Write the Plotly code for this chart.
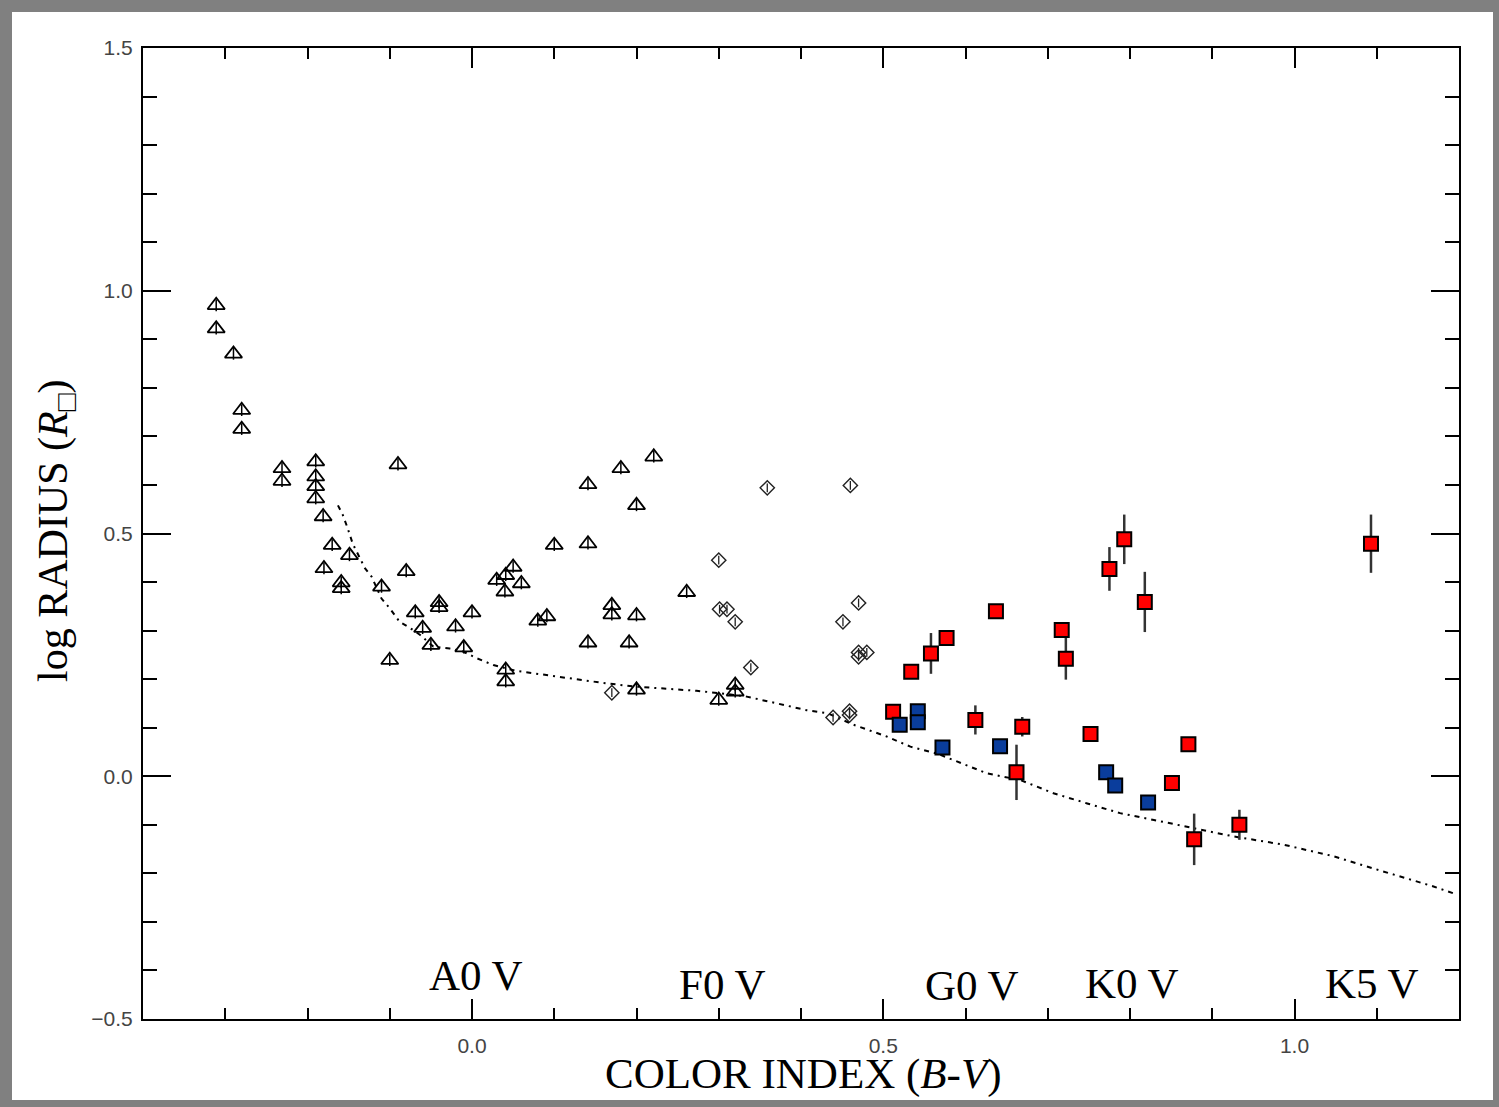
import plotly.graph_objects as go

# ---------------- data ----------------
# Open triangles
tri_x = [-0.311, -0.311, -0.290, -0.280, -0.280, -0.231, -0.231, -0.190, -0.190, -0.190,
         -0.190, -0.181, -0.170, -0.149, -0.180, -0.159, -0.159, -0.090, -0.110, -0.080,
         -0.100, -0.069, -0.060, -0.050, -0.040, -0.040, -0.020, 0.000, -0.010, 0.050,
         0.041, 0.030, 0.060, 0.040, 0.041, 0.041, 0.080, 0.091, 0.100, 0.141,
         0.141, 0.141, 0.181, 0.221, 0.200, 0.170, 0.170, 0.200, 0.191, 0.261,
         0.200, 0.300, 0.320, 0.320]
tri_y = [0.970, 0.922, 0.870, 0.754, 0.715, 0.634, 0.608, 0.648, 0.617, 0.597,
         0.572, 0.535, 0.476, 0.455, 0.428, 0.399, 0.387, 0.642, 0.390, 0.422,
         0.239, 0.337, 0.305, 0.270, 0.358, 0.348, 0.308, 0.337, 0.265, 0.431,
         0.414, 0.404, 0.397, 0.380, 0.219, 0.195, 0.320, 0.329, 0.476, 0.601,
         0.479, 0.275, 0.634, 0.658, 0.558, 0.352, 0.333, 0.331, 0.275, 0.379,
         0.178, 0.157, 0.188, 0.174]

# Open diamonds
dia_x = [0.170, 0.359, 0.460, 0.300, 0.301, 0.310, 0.320, 0.339, 0.470, 0.451,
         0.470, 0.480, 0.470, 0.439, 0.459, 0.459]
dia_y = [0.172, 0.594, 0.599, 0.445, 0.344, 0.344, 0.318, 0.224, 0.357, 0.318,
         0.255, 0.255, 0.246, 0.121, 0.126, 0.134]

# Red squares with error bars
red_x = [0.534, 0.558, 0.577, 0.637, 0.512, 0.612, 0.669, 0.662, 0.717, 0.722,
         0.775, 0.793, 0.818, 0.752, 0.851, 0.871, 0.878, 0.933, 1.093]
red_y = [0.215, 0.253, 0.285, 0.340, 0.133, 0.116, 0.102, 0.008, 0.301, 0.242,
         0.427, 0.488, 0.359, 0.087, -0.014, 0.066, -0.130, -0.100, 0.479]
red_err = [0.0, 0.042, 0.015, 0.0, 0.0, 0.030, 0.020, 0.057, 0.0, 0.043,
           0.045, 0.051, 0.062, 0.012, 0.012, 0.0, 0.053, 0.031, 0.060]

# Blue squares
blue_x = [0.520, 0.542, 0.542, 0.572, 0.642, 0.771, 0.782, 0.822]
blue_y = [0.106, 0.134, 0.111, 0.059, 0.062, 0.008, -0.019, -0.054]

# Dotted main-sequence curve
curve_x = [-0.163, -0.157, -0.151, -0.145, -0.130, -0.122, -0.110, -0.100, -0.088, -0.075,
           -0.063, -0.047, -0.027, -0.011, 0.006, 0.026, 0.054, 0.075, 0.115, 0.156,
           0.196, 0.237, 0.273, 0.302, 0.334, 0.371, 0.407, 0.432, 0.464, 0.504,
           0.533, 0.565, 0.594, 0.626, 0.667, 0.707, 0.748, 0.788, 0.829, 0.865,
           0.926, 0.987, 1.048, 1.088, 1.129, 1.169, 1.198]
curve_y = [0.558, 0.538, 0.510, 0.479, 0.428, 0.411, 0.366, 0.346, 0.318, 0.305,
           0.291, 0.267, 0.263, 0.257, 0.243, 0.229, 0.217, 0.212, 0.203, 0.193,
           0.185, 0.181, 0.176, 0.171, 0.164, 0.150, 0.136, 0.130, 0.106, 0.082,
           0.061, 0.047, 0.027, 0.006, -0.008, -0.035, -0.056, -0.076, -0.090, -0.103,
           -0.124, -0.141, -0.165, -0.186, -0.206, -0.227, -0.244]

# Spectral-type labels
spec_labels = ["A0 V", "F0 V", "G0 V", "K0 V", "K5 V"]
spec_x = [0.005, 0.304, 0.608, 0.803, 1.094]
spec_y = [-0.410, -0.428, -0.430, -0.427, -0.427]

x_ticks = [0.0, 0.5, 1.0]
y_ticks = [-0.5, 0.0, 0.5, 1.0, 1.5]

# ---------------- figure ----------------
W, H = 1499, 1107
L, R, T, B = 143, 40, 48, 88
PW, PH = W - L - R, H - T - B


def px_x(px):
    return (px - L) / PW


def px_y(py):
    return (H - B - py) / PH


fig = go.Figure()

fig.add_trace(go.Scatter(
    x=curve_x, y=curve_y, mode="lines",
    line=dict(color="black", width=2, dash="5px,5px,2px,5px"),
    hoverinfo="skip", showlegend=False))

fig.add_trace(go.Scatter(
    x=tri_x, y=tri_y, mode="markers",
    marker=dict(symbol="triangle-up-open", size=15, color="black",
                line=dict(color="black", width=1.8)),
    error_y=dict(type="constant", value=0.012, color="black", thickness=1.5, width=0),
    showlegend=False))

fig.add_trace(go.Scatter(
    x=dia_x, y=dia_y, mode="markers",
    marker=dict(symbol="diamond-open", size=11, color="#222222",
                line=dict(color="#222222", width=1.4)),
    error_y=dict(type="constant", value=0.009, color="#222222", thickness=1.3, width=0),
    showlegend=False))

fig.add_trace(go.Scatter(
    x=red_x, y=red_y, mode="markers",
    marker=dict(symbol="square", size=14, color="#ff0000",
                line=dict(color="black", width=2)),
    error_y=dict(type="data", array=red_err, color="#333333", thickness=2.5, width=0),
    showlegend=False))

fig.add_trace(go.Scatter(
    x=blue_x, y=blue_y, mode="markers",
    marker=dict(symbol="square", size=14, color="#0a3d9c",
                line=dict(color="black", width=2)),
    showlegend=False))

annotations = []
for lab, sx, sy in zip(spec_labels, spec_x, spec_y):
    annotations.append(dict(
        x=sx, y=sy, xref="x", yref="y", text=lab, showarrow=False,
        xanchor="center", yanchor="middle",
        font=dict(family="Liberation Serif", size=43, color="black")))

annotations.append(dict(
    x=px_x(803), y=px_y(1074), xref="paper", yref="paper",
    text="COLOR INDEX (<i>B</i>-<i>V</i>)", showarrow=False,
    xanchor="center", yanchor="middle",
    font=dict(family="Liberation Serif", size=43, color="black")))

annotations.append(dict(
    x=px_x(56), y=px_y(531), xref="paper", yref="paper",
    text="log RADIUS (<i>R</i><sub>□</sub>)", showarrow=False, textangle=-90,
    xanchor="center", yanchor="middle",
    font=dict(family="Liberation Serif", size=42, color="black")))

# grey outer frame
grey = "#808080"
frame = [
    (0, 0, 12, H),        # left
    (0, 0, W, 12),        # top
    (W - 6, 0, W, H),     # right
    (0, H - 7, W, H),     # bottom
]
shapes = []
for x0, y0, x1, y1 in frame:
    shapes.append(dict(type="rect", xref="paper", yref="paper",
                       x0=px_x(x0), x1=px_x(x1), y0=px_y(y1), y1=px_y(y0),
                       fillcolor=grey, line=dict(width=0), layer="above"))

tickfont = dict(family="Liberation Sans", size=21, color="#444444")

fig.update_layout(
    width=W, height=H,
    margin=dict(l=L, r=R, t=T, b=B, pad=0),
    paper_bgcolor="white", plot_bgcolor="white",
    annotations=annotations, shapes=shapes,
    xaxis=dict(range=[-0.4, 1.2], tickvals=x_ticks, ticktext=[f"{v:.1f}" for v in x_ticks],
               ticks="inside", ticklen=20, tickwidth=2, tickcolor="black",
               minor=dict(dtick=0.1, tick0=0, ticks="inside", ticklen=11, tickwidth=2,
                          tickcolor="black", showgrid=False),
               showline=True, linecolor="black", linewidth=2, mirror="allticks",
               showgrid=False, zeroline=False, tickfont=tickfont,
               ticklabelstandoff=7),
    yaxis=dict(range=[-0.5, 1.5], tickvals=y_ticks,
               ticktext=[("\u22120.5" if v < 0 else f"{v:.1f}") for v in y_ticks],
               ticks="inside", ticklen=28, tickwidth=2, tickcolor="black",
               minor=dict(dtick=0.1, tick0=0, ticks="inside", ticklen=14, tickwidth=2,
                          tickcolor="black", showgrid=False),
               showline=True, linecolor="black", linewidth=2, mirror="allticks",
               showgrid=False, zeroline=False, tickfont=tickfont,
               ticklabelstandoff=4),
)

fig.write_html("out.html", config={"displayModeBar": False},
               post_script="document.body.style.margin='0';")
